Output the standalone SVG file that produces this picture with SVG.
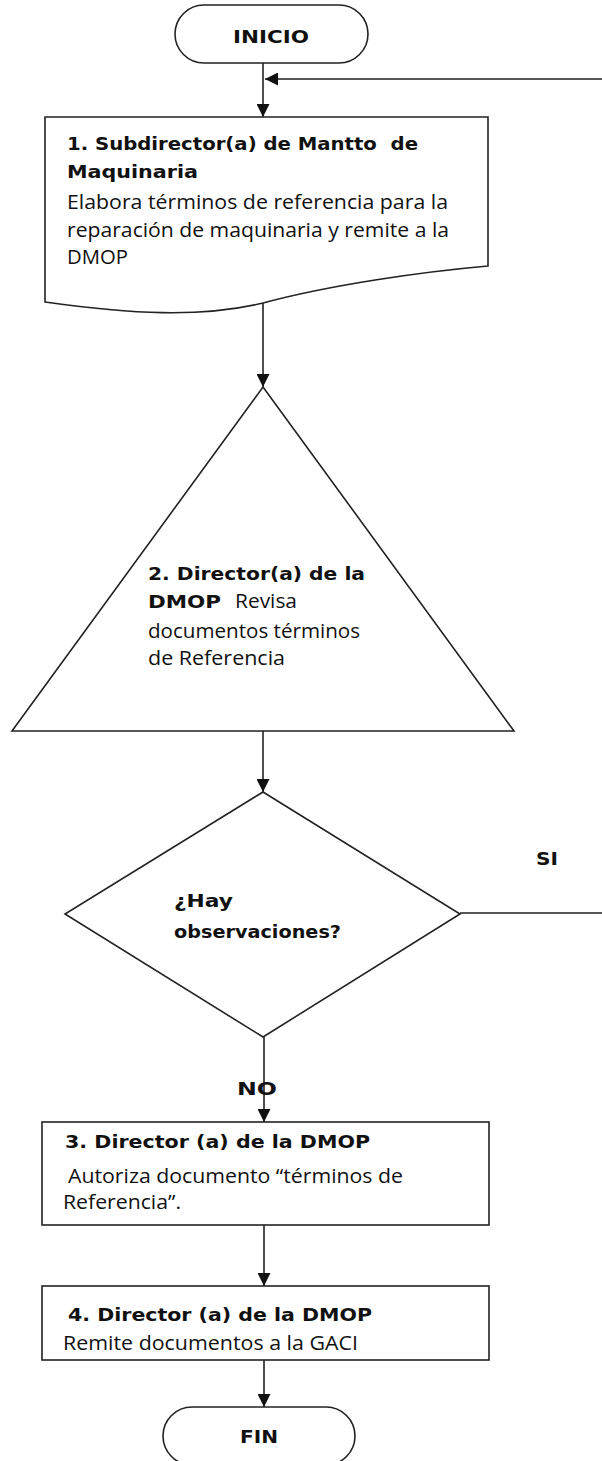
<svg xmlns="http://www.w3.org/2000/svg" width="602" height="1461" viewBox="0 0 602 1461">
<defs>
<marker id="arr" viewBox="0 0 10 10" refX="10" refY="5" markerWidth="14" markerHeight="13" markerUnits="userSpaceOnUse" orient="auto">
<path d="M0,0 L10,5 L0,10 z" fill="#111"/>
</marker>
<style>
.shape{fill:#fff;stroke:#222;stroke-width:1.6}
.conn{fill:none;stroke:#222;stroke-width:1.6}
.b{font-family:"DejaVu Sans","Liberation Sans",sans-serif;font-weight:bold;font-size:17px;fill:#111}
.t{font-family:"Open Sans","Liberation Sans",sans-serif;font-size:20px;fill:#111}
</style>
</defs>
<rect width="602" height="1461" fill="#fff"/>
<g id="connectors">
<path class="conn" d="M263,63 V117" marker-end="url(#arr)"/>
<path class="conn" d="M460,913 H604 V79 H265" marker-end="url(#arr)"/>
<path class="conn" d="M263,303 V387" marker-end="url(#arr)"/>
<path class="conn" d="M263,731 V792" marker-end="url(#arr)"/>
<path class="conn" d="M264,1037 V1122" marker-end="url(#arr)"/>
<path class="conn" d="M264,1225 V1286" marker-end="url(#arr)"/>
<path class="conn" d="M264,1360 V1407" marker-end="url(#arr)"/>
</g>
<g id="inicio">
<rect class="shape" x="175" y="5" width="193" height="58" rx="29"/>
<text class="b" x="233" y="43" font-size="19" textLength="76" lengthAdjust="spacingAndGlyphs">INICIO</text>
</g>
<g id="step1">
<path class="shape" d="M45,117 H488 V266 C420,272 330,285 263,303 C200,318 130,314 45,302 Z"/>
<text class="b" x="67" y="150" style="white-space:pre" textLength="351" lengthAdjust="spacingAndGlyphs">1. Subdirector(a) de Mantto  de</text>
<text class="b" x="67" y="178" textLength="131" lengthAdjust="spacingAndGlyphs">Maquinaria</text>
<text class="t" x="67" y="209" textLength="381" lengthAdjust="spacingAndGlyphs">Elabora términos de referencia para la</text>
<text class="t" x="67" y="237" textLength="382" lengthAdjust="spacingAndGlyphs">reparación de maquinaria y remite a la</text>
<text class="t" x="67" y="264" textLength="61" lengthAdjust="spacingAndGlyphs">DMOP</text>
</g>
<g id="step2">
<path class="shape" d="M263,387 L514,731 L12,731 Z"/>
<text class="b" x="148" y="580" textLength="217" lengthAdjust="spacingAndGlyphs">2. Director(a) de la</text>
<text x="148" y="608"><tspan class="b" textLength="73" lengthAdjust="spacingAndGlyphs">DMOP</tspan><tspan class="t" x="235" textLength="62" lengthAdjust="spacingAndGlyphs">Revisa</tspan></text>
<text class="t" x="148" y="638" textLength="212" lengthAdjust="spacingAndGlyphs">documentos términos</text>
<text class="t" x="148" y="665" textLength="137" lengthAdjust="spacingAndGlyphs">de Referencia</text>
</g>
<g id="decision">
<path class="shape" d="M263,792 L460,914 L263,1037 L65,914 Z"/>
<text class="b" x="174" y="907" textLength="59" lengthAdjust="spacingAndGlyphs">¿Hay</text>
<text class="b" x="174" y="938" textLength="167" lengthAdjust="spacingAndGlyphs">observaciones?</text>
</g>
<g id="labels">
<text class="b" x="536" y="865" textLength="22" lengthAdjust="spacingAndGlyphs">SI</text>
<text class="b" x="237" y="1095" font-size="19" textLength="40" lengthAdjust="spacingAndGlyphs">NO</text>
</g>
<g id="step3">
<rect class="shape" x="42" y="1122" width="447" height="103"/>
<text class="b" x="65" y="1148" textLength="305" lengthAdjust="spacingAndGlyphs">3. Director (a) de la DMOP</text>
<text class="t" x="68" y="1183" textLength="335" lengthAdjust="spacingAndGlyphs">Autoriza documento “términos de</text>
<text class="t" x="63" y="1209" textLength="118" lengthAdjust="spacingAndGlyphs">Referencia”.</text>
</g>
<g id="step4">
<rect class="shape" x="42" y="1286" width="447" height="74"/>
<text class="b" x="68" y="1321" textLength="304" lengthAdjust="spacingAndGlyphs">4. Director (a) de la DMOP</text>
<text class="t" x="63" y="1350" textLength="295" lengthAdjust="spacingAndGlyphs">Remite documentos a la GACI</text>
</g>
<g id="fin">
<rect class="shape" x="163" y="1407" width="192" height="58" rx="29"/>
<text class="b" x="240" y="1443" font-size="19" textLength="38" lengthAdjust="spacingAndGlyphs">FIN</text>
</g>
</svg>
